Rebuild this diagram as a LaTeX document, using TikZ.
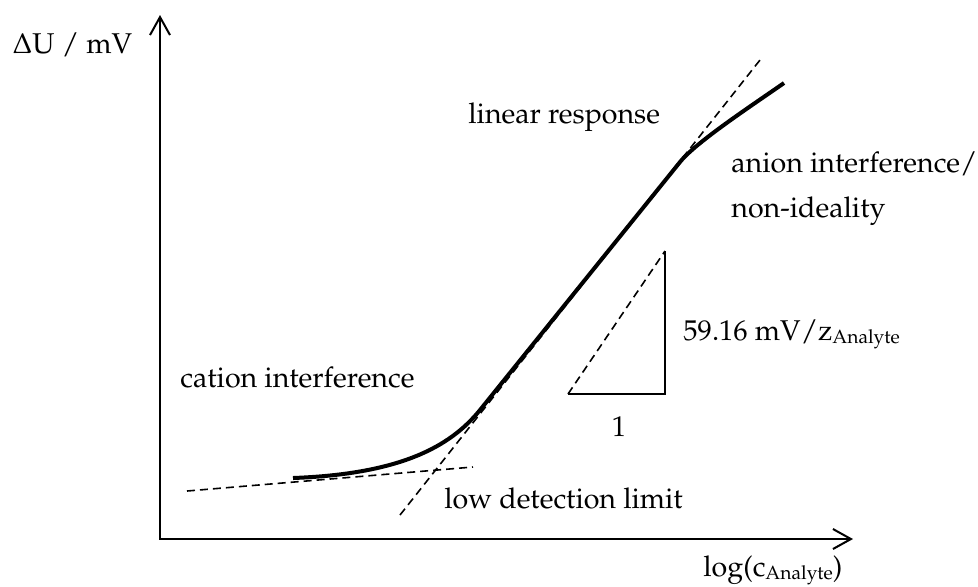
\documentclass[tikz,border=0pt]{standalone}
\usepackage[T1]{fontenc}
\usepackage{mathpazo}
\usetikzlibrary{arrows.meta}

% smaller, slightly lowered index text
\newcommand{\lowidx}[1]{\raisebox{-0.25ex}{\fontsize{9.6}{11}\selectfont #1}}

\begin{document}
\begin{tikzpicture}[x=0.5pt, y=-0.5pt, font=\fontsize{14.3}{17}\selectfont,
    lbl/.style={anchor=base west, inner sep=0pt},
    axis/.style={line width=1pt, {Straight Barb[length=9pt,width=10pt]}-{Straight Barb[length=9pt,width=10pt]}},
    tangent/.style={line width=0.8pt, dash pattern=on 4pt off 2.5pt}]
    \useasboundingbox (0,0) rectangle (978,586);

    % axes
    \coordinate (O) at (160,539);
    \coordinate (ytip) at (160,15);
    \coordinate (xtip) at (853,539);
    \draw[axis] (ytip) -- (O) -- (xtip);

    \node[lbl] (ylab) at (12,53) {$\Delta$U / mV};
    \node[lbl] (xlab) at (703,576) {log(c\lowidx{Analyte})};

    % tangents
    \coordinate (flat1) at (187,491);
    \coordinate (flat2) at (473,467);
    \coordinate (steep1) at (400,515);
    \coordinate (steep2) at (760,60);
    \draw[tangent] (flat1) -- (flat2);
    \draw[tangent] (steep1) -- (steep2);

    % response curve
    \draw[line width=2pt] (293,478) .. controls (400,474) and (450,447) .. (480,410)
        -- (680,162) .. controls (696,142) and (754,104) .. (784,83);

    % slope triangle
    \coordinate (ta) at (568,394);
    \coordinate (tb) at (665,394);
    \coordinate (tc) at (665,251);
    \draw[line width=1pt] (ta) -- (tb) -- (tc);
    \draw[tangent] (ta) -- (tc);
    \node[anchor=base, inner sep=0pt] (one) at (619,436) {1};
    \node[lbl] (slope) at (683,340) {59.16 mV/z\lowidx{Analyte}};

    % regions
    \node[lbl] (lin) at (468,123) {linear response};
    \node[lbl] (anion) at (731,172) {anion interference/};
    \node[lbl] (nonid) at (731,217) {non-ideality};
    \node[lbl] (cation) at (180,387) {cation interference};
    \node[lbl] (ldl) at (444,508) {low detection limit};
\end{tikzpicture}
\end{document}
